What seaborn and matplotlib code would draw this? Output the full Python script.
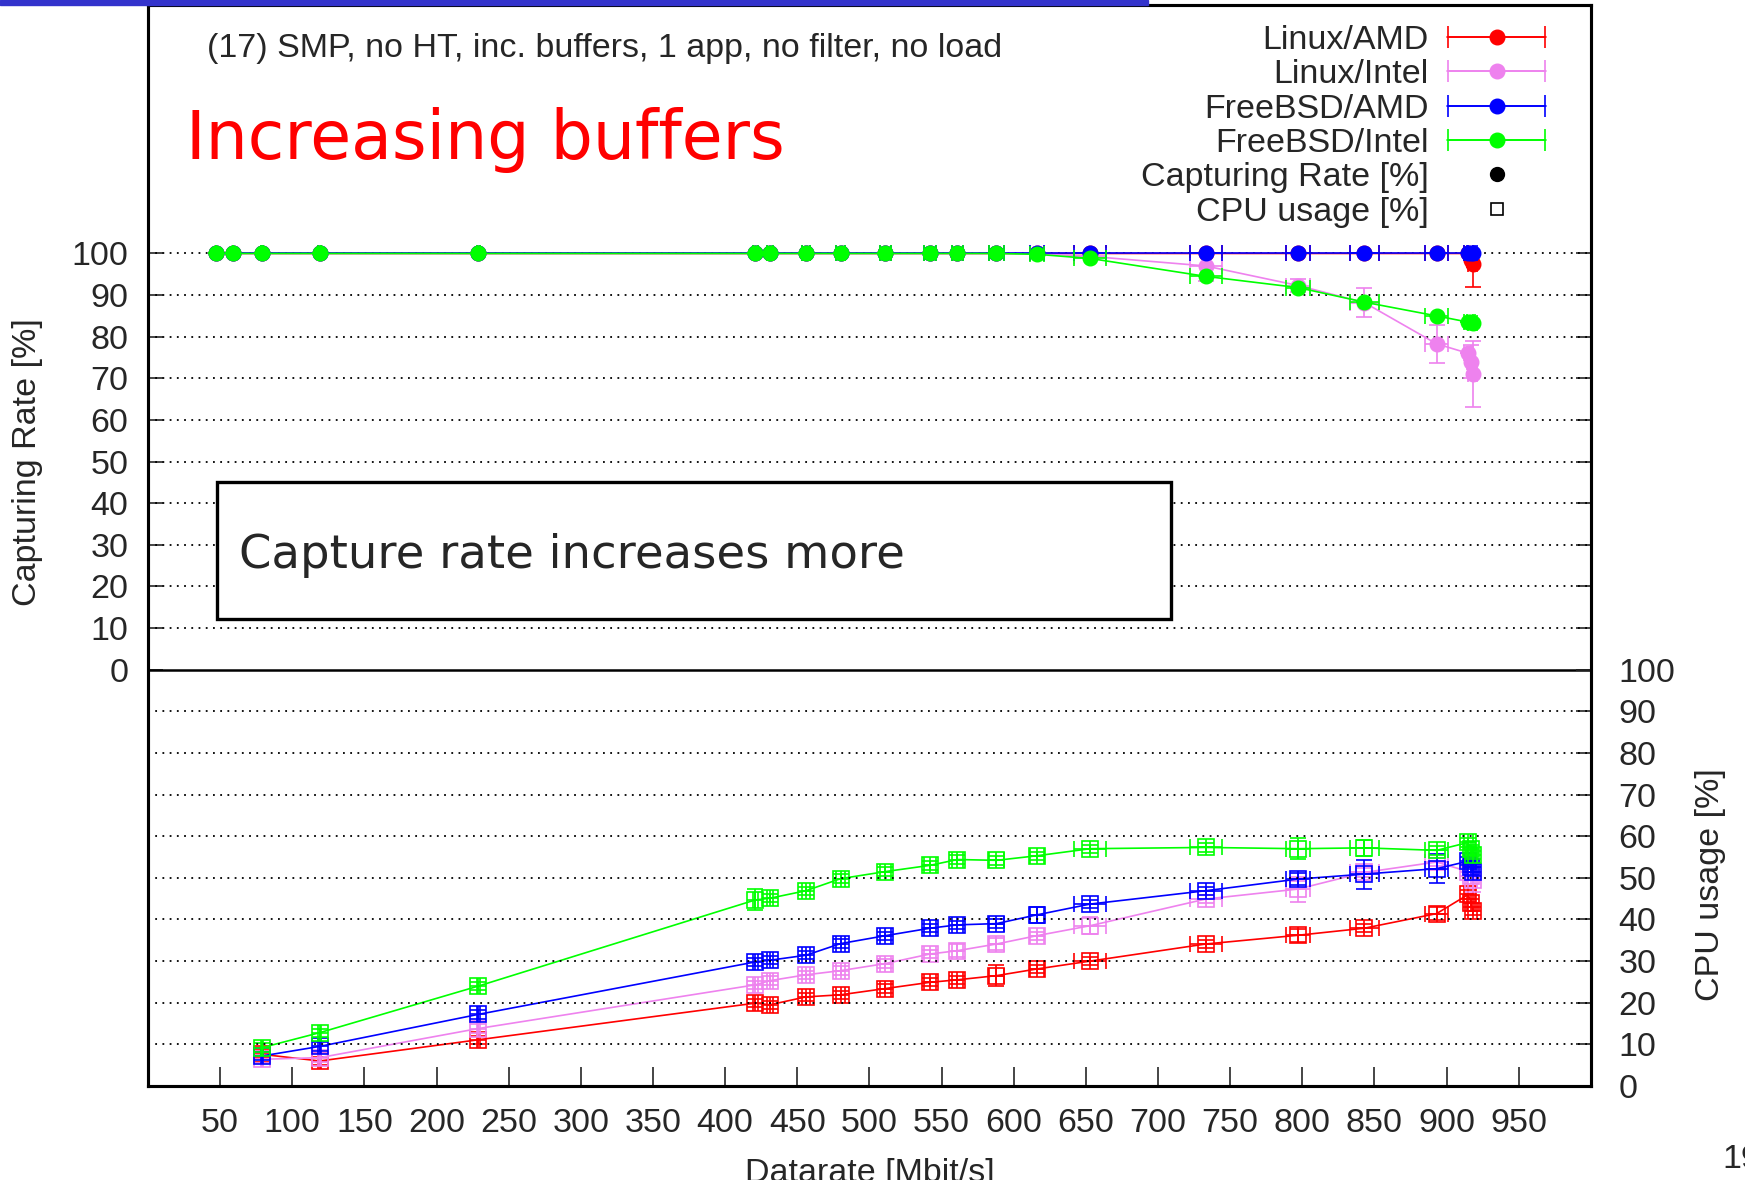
import numpy as np
import pandas as pd
import matplotlib
matplotlib.use("Agg")
import matplotlib.pyplot as plt
import matplotlib.patches as patches
from matplotlib.lines import Line2D
from matplotlib.container import ErrorbarContainer
from matplotlib.legend_handler import HandlerErrorbar
import seaborn as sns

# data
systems = ['Linux/AMD', 'Linux/Intel', 'FreeBSD/AMD', 'FreeBSD/Intel']
colors = ['#ff0000', '#ee82ee', '#0000ff', '#00ff00']

datarate = [47, 59, 79, 119, 229, 421, 431, 456, 480, 511, 542, 561, 588,
            616, 653, 733, 797, 843, 893, 915, 917, 918]
datarate_err = [0, 0, 1, 1, 1, 2, 2, 3, 3, 4, 4, 4, 5, 5, 11, 11, 8, 10,
                8, 3, 3, 3]

capture_linux_amd = [100] * 19 + [100, 98.5, 97.5]
capture_linux_intel = [100] * 14 + [99.3, 97, 92.3, 88.2, 78.3, 76, 74, 71]
capture_bsd_amd = [100] * 22
capture_bsd_intel = [100] * 13 + [99.8, 98.8, 94.5, 91.8, 88.3, 85, 83.5,
                                   83.5, 83.3]

capture_err_linux_amd = [0] * 21 + [5.5]
capture_err_linux_intel = [0] * 15 + [3.5, 1.5, 3.5, 4.5, 0, 4, 8]
capture_err_bsd_amd = [0] * 22
capture_err_bsd_intel = [0] * 22

nan = np.nan
cpu_linux_amd = [nan, nan, 7.6, 6.0, 11.1, 19.9, 19.5, 21.4, 21.9, 23.4, 24.9,
                 25.5, 26.5, 28.1, 30.0, 34.1, 36.2, 37.9, 41.4, 46, 44, 42]
cpu_linux_intel = [nan, nan, 6.4, 6.8, 13.8, 24.3, 25.3, 26.7, 27.7, 29.4,
                   31.7, 32.5, 34.1, 36.1, 38.5, 44.9, 47.3, 51.3, 53.8, 51.5,
                   50.5, 49.5]
cpu_bsd_amd = [nan, nan, 7.2, 9.5, 17.2, 29.8, 30.2, 31.4, 34.2, 36.1, 37.9,
               38.7, 39.0, 41.1, 43.7, 46.9, 49.7, 50.9, 52.2, 54, 52.5, 51.5]
cpu_bsd_intel = [nan, nan, 9.2, 12.8, 24.0, 44.7, 45.1, 46.9, 49.8, 51.5,
                 53.0, 54.4, 54.2, 55.3, 57.0, 57.3, 57.0, 57.2, 56.6, 58.5,
                 57, 55.5]

cpu_err_linux_amd = [0, 0, 1, 1, 1, 1, 1, 1, 1, 1, 1, 1, 2.5, 1, 1, 1, 1.5,
                     1, 1.5, 1, 1, 1]
cpu_err_linux_intel = [0, 0, 1, 1, 1, 1, 1, 1, 1, 1, 1, 1.5, 1.5, 1, 2, 1,
                       3, 1, 1, 1, 1, 3]
cpu_err_bsd_amd = [0, 0, 1, 1, 1, 1, 1, 1, 1, 1, 1, 1, 1, 2, 1, 1, 1.5, 3.5,
                   3.5, 1, 1, 1]
cpu_err_bsd_intel = [0, 0, 1, 1, 1, 2.5, 1, 1, 1, 1, 1, 1, 1, 1, 1, 1, 2.5,
                     2, 1, 1, 1, 1]

capture = [capture_linux_amd, capture_linux_intel, capture_bsd_amd,
           capture_bsd_intel]
capture_err = [capture_err_linux_amd, capture_err_linux_intel,
               capture_err_bsd_amd, capture_err_bsd_intel]
cpu = [cpu_linux_amd, cpu_linux_intel, cpu_bsd_amd, cpu_bsd_intel]
cpu_err = [cpu_err_linux_amd, cpu_err_linux_intel, cpu_err_bsd_amd,
           cpu_err_bsd_intel]

x_ticks = list(range(50, 1000, 50))
y_ticks = list(range(0, 110, 10))

FS = 24.5

sns.set_theme(style="white")
plt.rcParams['font.family'] = ['Liberation Sans', 'DejaVu Sans']

fig = plt.figure(figsize=(17.45, 11.8), dpi=100)
ax = fig.add_axes([0.0848, 0.0797, 0.9117 - 0.0848, 0.9958 - 0.0797])
ax2 = ax.twinx()

# the CPU part is drawn below the capture part, shifted down by 100
for i, name in enumerate(systems):
    c = colors[i]
    x = np.array(datarate, dtype=float)
    cap = np.array(capture[i], dtype=float)
    cap_err = np.array(capture_err[i], dtype=float)
    usage = np.array(cpu[i], dtype=float) - 100

    frame = pd.DataFrame({'x': x, 'cap': cap, 'cpu': usage})
    sns.lineplot(data=frame, x='x', y='cap', ax=ax, color=c, lw=1.2,
                 estimator=None, sort=False, zorder=3 + i)
    sns.lineplot(data=frame.dropna(), x='x', y='cpu', ax=ax, color=c, lw=1.2,
                 estimator=None, sort=False, zorder=3 + i)

    ax.errorbar(x, cap, xerr=datarate_err,
                yerr=[cap_err, np.minimum(cap_err, 100 - cap)], fmt='o',
                color=c, ms=10.5, elinewidth=1.2, capsize=6, capthick=1.2,
                zorder=3 + i)
    ax.errorbar(x, usage, xerr=datarate_err, yerr=cpu_err[i], fmt='s',
                color=c, mfc='none', mec=c, ms=11, mew=1.2, elinewidth=1.2,
                capsize=6, capthick=1.2, zorder=3 + i)
    ax.plot(x, usage, '+', color=c, ms=11, mew=1.2, zorder=3 + i)

ax.set_xlim(0, 1000)
ax.set_ylim(-100, 159.7)
ax2.set_ylim(0, 259.7)

ax.set_xticks(x_ticks)
ax.set_xticklabels([str(t) for t in x_ticks])
ax.set_yticks(y_ticks)
ax.set_yticklabels([str(t) for t in y_ticks])
ax2.set_yticks(y_ticks)
ax2.set_yticklabels([str(t) for t in y_ticks])

ax.set_xlabel('')
ax.set_ylabel('')
ax.tick_params(axis='x', direction='in', length=14, width=1.2, pad=16,
               labelsize=FS, bottom=True, top=False)
ax.tick_params(axis='y', direction='in', length=11, width=1.2, pad=14,
               labelsize=FS, left=True, right=True, labelright=False)
ax2.tick_params(axis='y', direction='in', length=11, width=1.2, pad=20,
                labelsize=FS, right=True)

for a in (ax, ax2):
    for s in a.spines.values():
        s.set_color('black')
        s.set_linewidth(2.2)

# dotted grid lines: capture part on the left scale, CPU part on the right
for t in y_ticks[1:]:
    ax.axhline(t, color='black', lw=1.3, ls=(0, (1, 3)), zorder=1)
for t in y_ticks[1:-1]:
    ax2.axhline(t, color='black', lw=1.3, ls=(0, (1, 3)), zorder=1)
ax.axhline(0, color='black', lw=1.8, zorder=2)

# legend
handles = []
for c in colors:
    h = ax.errorbar([nan], [nan], xerr=[1], fmt='-o', color=c, ms=10.5,
                    lw=1.2, elinewidth=1.2, capsize=8, capthick=1.2)
    handles.append(h)
handles.append(Line2D([], [], ls='none', marker='o', color='black', ms=10))
handles.append(Line2D([], [], ls='none', marker='s', mfc='none',
                      mec='black', ms=8, mew=1.2))
labels = systems + ['Capturing Rate [%]', 'CPU usage [%]']
leg = ax.legend(handles, labels, loc='upper right', markerfirst=False,
                frameon=False, fontsize=FS, labelspacing=0.1,
                handlelength=2.9, handletextpad=0.55,
                bbox_to_anchor=(0.99, 1.010),
                handler_map={ErrorbarContainer: HandlerErrorbar(xerr_size=1.42)})

# annotations
fig.text(207 / 1745, 1 - 49 / 1180, '(17) SMP, no HT, inc. buffers, 1 app, '
         'no filter, no load', fontsize=FS, ha='left', va='center')
fig.text(186 / 1745, 1 - 140 / 1180, 'Increasing buffers', color='#ff0000',
         fontsize=48, family='DejaVu Sans', ha='left', va='center')
fig.patches.append(patches.Rectangle((217 / 1745, 1 - 619 / 1180),
                                     954 / 1745, 137 / 1180,
                                     transform=fig.transFigure,
                                     facecolor='white', edgecolor='black',
                                     lw=2.4, zorder=10))
fig.text(239 / 1745, 1 - 556 / 1180, 'Capture rate increases more',
         fontsize=33.5, family='DejaVu Sans', ha='left', va='center',
         zorder=11)

fig.text(28 / 1745, 1 - 462 / 1180, 'Capturing Rate [%]', rotation=90,
         fontsize=FS, ha='center', va='center')
fig.text(1710 / 1745, 1 - 885 / 1180, 'CPU usage [%]', rotation=90,
         fontsize=FS, ha='center', va='center')
fig.text(870 / 1745, -2 / 1180, 'Datarate [Mbit/s]', fontsize=FS,
         ha='center', va='baseline')
fig.text(1722 / 1745, 1 - 1168 / 1180, '19', fontsize=FS, ha='left',
         va='baseline')

# slide title bar above the chart
fig.patches.append(patches.Rectangle((0, 1 - 4.5 / 1180), 1148 / 1745,
                                     4.5 / 1180, transform=fig.transFigure,
                                     color='#3333cc', zorder=12))

fig.savefig('out.png', dpi=100)
